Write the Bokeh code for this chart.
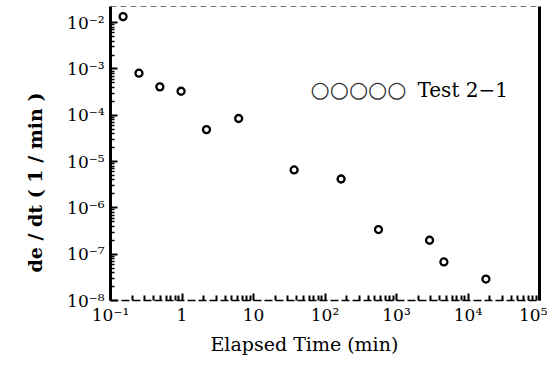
from bokeh.plotting import figure
from bokeh.models import (LogAxis, FixedTicker, CustomJSTickFormatter, Label, Range1d, Title)
from bokeh.embed import file_html
from bokeh.resources import INLINE

# ---- data ----
elapsed_min = [0.15, 0.25, 0.49, 0.97, 2.2, 6.2, 37, 168, 560, 2900, 4600, 17800]
strain_rate = [1.35e-2, 8.1e-4, 4.1e-4, 3.3e-4, 4.9e-5, 8.5e-5, 6.6e-6, 4.2e-6,
               3.4e-7, 2.0e-7, 6.8e-8, 2.9e-8]

x_ticks = [1e-1, 1, 10, 1e2, 1e3, 1e4, 1e5]
x_tick_labels = ["10⁻¹", "1", "10", "10²", "10³", "10⁴", "10⁵"]
y_ticks = [1e-8, 1e-7, 1e-6, 1e-5, 1e-4, 1e-3, 1e-2]
y_tick_labels = ["10⁻⁸", "10⁻⁷", "10⁻⁶", "10⁻⁵", "10⁻⁴", "10⁻³", "10⁻²"]

legend_symbols = "○○○○○"
legend_text = "Test 2−1"
x_title = "Elapsed Time (min)"
y_title = "de / dt ( 1 / min )"

FONT = "DejaVu Serif"

def minor_for(ticks):
    out = []
    for t in ticks[:-1]:
        for k in range(2, 10):
            out.append(t * k)
    return out

def fmt(vals, labs):
    return CustomJSTickFormatter(args=dict(vals=vals, labs=labs), code="""
        for (let i = 0; i < vals.length; i++) {
            if (Math.abs(Math.log10(vals[i]) - Math.log10(tick)) < 1e-6) return labs[i];
        }
        return "";
    """)

p = figure(width=547, height=368, x_axis_type="log", y_axis_type="log",
           x_range=Range1d(0.1, 1e5), y_range=Range1d(1e-8, 0.0223),
           output_backend="svg", toolbar_location=None,
           min_border_left=110, min_border_right=8, min_border_top=6,
           min_border_bottom=68)
p.outline_line_color = None
p.grid.visible = False
p.background_fill_color = "white"
p.border_fill_color = "white"

xa = p.xaxis[0]
xa.ticker = FixedTicker(ticks=x_ticks, minor_ticks=minor_for(x_ticks))
xa.formatter = fmt(x_ticks, x_tick_labels)
xa.major_label_text_font = FONT
xa.major_label_text_font_size = "17px"
xa.major_label_text_color = "black"
xa.major_label_standoff = 4
xa.major_tick_in = 7
xa.major_tick_out = 0
xa.minor_tick_in = 5
xa.minor_tick_out = 0
xa.major_tick_line_width = 2
xa.minor_tick_line_width = 2
xa.axis_line_width = 1.5
xa.axis_line_dash = "8 3"

ya = p.yaxis[0]
ya.ticker = FixedTicker(ticks=y_ticks, minor_ticks=minor_for(y_ticks))
ya.formatter = fmt(y_ticks, y_tick_labels)
ya.major_label_text_font = FONT
ya.major_label_text_font_size = "17px"
ya.major_label_text_color = "black"
ya.major_label_standoff = 6
ya.major_tick_in = 7
ya.major_tick_out = 0
ya.minor_tick_in = 4
ya.minor_tick_out = 0
ya.major_tick_line_width = 2
ya.minor_tick_line_width = 1.5
ya.axis_line_width = 3

right = LogAxis(ticker=FixedTicker(ticks=[]), axis_line_width=3,
                major_tick_line_color=None, minor_tick_line_color=None,
                major_label_text_font_size="0px")
p.add_layout(right, "right")
top = LogAxis(ticker=FixedTicker(ticks=[]), axis_line_width=1,
              axis_line_color="#777777", axis_line_dash="6 4",
              major_tick_line_color=None, minor_tick_line_color=None,
              major_label_text_font_size="0px")
p.add_layout(top, "above")

p.scatter(elapsed_min, strain_rate, marker="circle", size=7, line_width=2.3,
          line_color="black", fill_color="white")

p.add_layout(Title(text=y_title, align="left", offset=28, text_font=FONT,
                   text_font_size="19px", text_font_style="bold",
                   text_color="black", standoff=34, vertical_align="top"),
             "left")
p.add_layout(Title(text=x_title, align="left", offset=100, text_font=FONT,
                   text_font_size="19px", text_font_style="normal",
                   text_color="black", standoff=6), "below")

p.add_layout(Label(x=200, y=211, x_units="screen", y_units="screen",
                   text=legend_symbols, text_font="DejaVu Sans",
                   text_font_size="22px", text_align="left",
                   text_baseline="middle", text_color="#333333"))
p.add_layout(Label(x=307, y=211, x_units="screen", y_units="screen",
                   text=legend_text, text_font=FONT, text_font_size="20px",
                   text_align="left", text_baseline="middle",
                   text_color="black"))

open("out.html", "w").write(file_html(p, INLINE))
